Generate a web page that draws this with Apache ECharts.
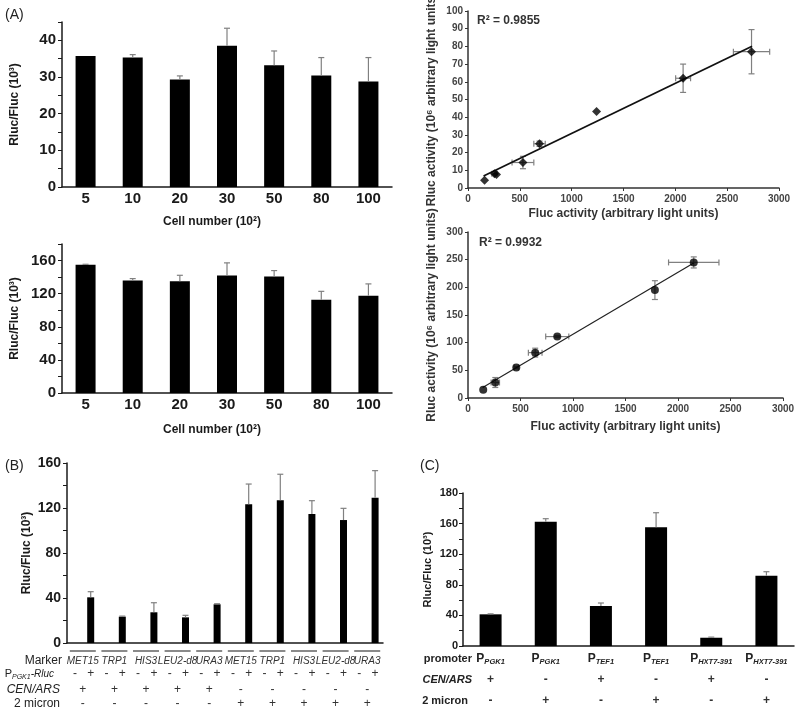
<!DOCTYPE html>
<html><head><meta charset="utf-8">
<script src="https://cdn.jsdelivr.net/npm/echarts@6/dist/echarts.min.js"></script>
<style>html,body{margin:0;padding:0;background:#fff}#c{width:800px;height:714px}</style>
</head><body><div id="c"></div>
<script>
// ---------- data ----------
const cellNumbers = ['5', '10', '20', '30', '50', '80', '100'];
const a1Mean = [35.7, 35.3, 29.3, 38.5, 33.2, 30.4, 28.8];
const a1Err  = [0.0, 0.8, 1.0, 4.8, 3.9, 4.9, 6.5];
const a2Mean = [154.8, 135.8, 135.0, 141.8, 140.6, 112.7, 117.6];
const a2Err  = [0.7, 2.4, 7.2, 15.4, 7.3, 10.1, 14.2];

const a3X    = [160, 255, 275, 530, 690, 1240, 2075, 2735];
const a3Y    = [4.4, 8.0, 7.6, 14.4, 25.0, 43.2, 62.0, 77.0];
const a3XErr = [0, 25, 0, 105, 55, 0, 72, 175];
const a3YErr = [0, 0, 0, 3.5, 1.5, 0, 8, 12.5];
const a3TrendX = [150, 2740];
const a3TrendY = [6.8, 80.1];

const a4X    = [145, 260, 460, 640, 850, 1780, 2150];
const a4Y    = [15, 28, 55, 82, 111, 195, 245];
const a4XErr = [0, 40, 20, 65, 110, 0, 240];
const a4YErr = [0, 9, 2, 8, 2, 17, 10];
const a4TrendX = [140, 2150];
const a4TrendY = [19, 244];

const markers = ['MET15', 'TRP1', 'HIS3', 'LEU2-d8', 'URA3', 'MET15', 'TRP1', 'HIS3', 'LEU2-d8', 'URA3'];
const bMean = [40.6, 23.4, 27.3, 22.8, 34.4, 123.3, 127.0, 114.7, 109.3, 129.2];
const bErr  = [5.0, 0.5, 8.5, 1.8, 0.5, 18.0, 23.0, 11.8, 10.4, 24.0];
const bPgkRluc = ['-', '+'];
const bCenArs = ['+', '+', '+', '+', '+', '-', '-', '-', '-', '-'];
const bTwoMicron = ['-', '-', '-', '-', '-', '+', '+', '+', '+', '+'];

const promoters = ['PGK1', 'PGK1', 'TEF1', 'TEF1', 'HXT7-391', 'HXT7-391'];
const cMean = [41.4, 162.5, 52.3, 155.2, 10.8, 91.9];
const cErr  = [0.6, 3.9, 3.9, 19.0, 0.8, 5.2];
const cCenArs = ['+', '-', '+', '-', '+', '-'];
const cTwoMicron = ['-', '+', '-', '+', '-', '+'];
const cYTickValues = [0, 40, 80, 120, 160, 200];
const cYTickLabels = ['0', '40', '80', '120', '160', '180'];

// ---------- helpers ----------
const FONT = 'Liberation Sans';
const INK = '#1a1a1a';
const ERR = '#808080';

function barErr(params, api) {
  const x = api.value(0), m = api.value(1), e = api.value(2);
  if (!e) return null;
  const p0 = api.coord([x, m]), p1 = api.coord([x, m + e]);
  const cap = 3;
  return { type: 'group', children: [
    { type: 'line', shape: { x1: p0[0], y1: p0[1], x2: p1[0], y2: p1[1] }, style: { stroke: ERR, lineWidth: 1.2 } },
    { type: 'line', shape: { x1: p1[0] - cap, y1: p1[1], x2: p1[0] + cap, y2: p1[1] }, style: { stroke: ERR, lineWidth: 1.2 } }
  ]};
}
function xyErr(params, api) {
  const x = api.value(0), y = api.value(1), ex = api.value(2), ey = api.value(3);
  const cap = 3, ch = [];
  const st = { stroke: ERR, lineWidth: 1.2 };
  if (ex) {
    const a = api.coord([x - ex, y]), b = api.coord([x + ex, y]);
    ch.push({ type: 'line', shape: { x1: a[0], y1: a[1], x2: b[0], y2: b[1] }, style: st });
    ch.push({ type: 'line', shape: { x1: a[0], y1: a[1] - cap, x2: a[0], y2: a[1] + cap }, style: st });
    ch.push({ type: 'line', shape: { x1: b[0], y1: b[1] - cap, x2: b[0], y2: b[1] + cap }, style: st });
  }
  if (ey) {
    const a = api.coord([x, y - ey]), b = api.coord([x, y + ey]);
    ch.push({ type: 'line', shape: { x1: a[0], y1: a[1], x2: b[0], y2: b[1] }, style: st });
    ch.push({ type: 'line', shape: { x1: a[0] - cap, y1: a[1], x2: a[0] + cap, y2: a[1] }, style: st });
    ch.push({ type: 'line', shape: { x1: b[0] - cap, y1: b[1], x2: b[0] + cap, y2: b[1] }, style: st });
  }
  return { type: 'group', children: ch };
}
function catX(gi, data, fontSize) {
  return { type: 'category', gridIndex: gi, data: data,
    axisLine: { lineStyle: { color: INK, width: 1.5 } }, axisTick: { show: false },
    axisLabel: { show: !!fontSize, interval: 0, fontFamily: FONT, fontWeight: 'bold', fontSize: fontSize || 12, color: INK, margin: 4 } };
}
function barY(gi, max, step, labelEvery, fontSize, name, nameGap, nameSize) {
  return { type: 'value', gridIndex: gi, min: 0, max: max, interval: step,
    splitLine: { show: false },
    axisLine: { show: true, lineStyle: { color: INK, width: 1.5 } },
    axisTick: { show: true, length: 4, lineStyle: { color: INK, width: 1 } },
    axisLabel: { fontFamily: FONT, fontWeight: 'bold', fontSize: fontSize, color: INK, margin: 6,
      formatter: v => (v % labelEvery === 0 ? String(v) : '') },
    name: name, nameLocation: 'middle', nameGap: nameGap,
    nameTextStyle: { fontFamily: FONT, fontWeight: 'bold', fontSize: nameSize, color: INK } };
}
function valAxis(gi, max, step, name, nameGap, isY) {
  return { type: 'value', gridIndex: gi, min: 0, max: max, interval: step,
    splitLine: { show: false },
    axisLine: { show: true, onZero: false, lineStyle: { color: '#333', width: 1.5 } },
    axisTick: { show: true, length: 3, lineStyle: { color: '#333' } },
    axisLabel: { fontFamily: FONT, fontWeight: 'bold', fontSize: 10, color: '#444', margin: isY ? 5 : 6,
      formatter: v => String(v) },
    name: name, nameLocation: 'middle', nameGap: nameGap,
    nameTextStyle: { fontFamily: FONT, fontWeight: 'bold', fontSize: 12, color: '#333' } };
}
function rowAxis(gi, data, offset, label, name, nameGap, nameStyle) {
  return { type: 'category', gridIndex: gi, data: data, position: 'bottom', offset: offset,
    axisLine: { show: false }, axisTick: { show: false },
    axisLabel: Object.assign({ interval: 0, margin: 0, verticalAlign: 'middle', fontFamily: FONT, color: '#333' }, label),
    name: name || '', nameLocation: 'start', nameGap: nameGap || 0,
    nameTextStyle: Object.assign({ fontFamily: FONT, color: '#222', verticalAlign: 'middle' }, nameStyle || {}) };
}

const bCols = markers.flatMap(() => bPgkRluc);
const bBarData = markers.flatMap((m, i) => ['-', bMean[i]]);
const bErrData = bMean.map((m, i) => [2 * i + 1, m, bErr[i]]);

const subRich = {
  p: { fontFamily: FONT, fontSize: 11, lineHeight: 13, color: '#222' },
  s: { fontFamily: FONT, fontSize: 7, fontStyle: 'italic', lineHeight: 7, verticalAlign: 'bottom', color: '#222' },
  i: { fontFamily: FONT, fontSize: 10, fontStyle: 'italic', lineHeight: 13, color: '#222' }
};
const subRichBold = {
  p: { fontFamily: FONT, fontSize: 12, fontWeight: 'bold', lineHeight: 14, color: '#222' },
  s: { fontFamily: FONT, fontSize: 7.5, fontWeight: 'bold', fontStyle: 'italic', lineHeight: 8, verticalAlign: 'bottom', color: '#222' }
};

const option = {
  animation: false,
  backgroundColor: '#fff',
  textStyle: { fontFamily: FONT },
  grid: [
    { left: 62, top: 22, width: 330, height: 165, outerBoundsMode: 'none' },
    { left: 62, top: 244, width: 330, height: 149, outerBoundsMode: 'none' },
    { left: 468, top: 11, width: 311, height: 177, outerBoundsMode: 'none' },
    { left: 468, top: 232, width: 315, height: 166, outerBoundsMode: 'none' },
    { left: 67, top: 463, width: 316, height: 180, outerBoundsMode: 'none' },
    { left: 463, top: 493, width: 331, height: 153, outerBoundsMode: 'none' }
  ],
  xAxis: [
    Object.assign(catX(0, cellNumbers, 15), { name: 'Cell number (10²)', nameLocation: 'middle', nameGap: 29,
      nameTextStyle: { fontFamily: FONT, fontWeight: 'bold', fontSize: 12, color: INK, padding: [0, 30, 0, 0] } }),
    Object.assign(catX(1, cellNumbers, 15), { name: 'Cell number (10²)', nameLocation: 'middle', nameGap: 31,
      nameTextStyle: { fontFamily: FONT, fontWeight: 'bold', fontSize: 12, color: INK, padding: [0, 30, 0, 0] } }),
    valAxis(2, 3000, 500, 'Fluc activity (arbitrary light units)', 20, false),
    valAxis(3, 3000, 500, 'Fluc activity (arbitrary light units)', 23, false),
    catX(4, bCols, 0),
    rowAxis(4, markers, 8, { formatter: () => '{l| }', rich: { l: { width: 26, height: 2, lineHeight: 2, fontSize: 2, backgroundColor: '#8a8a8a' } } }),
    rowAxis(4, markers, 18, { fontSize: 10, fontStyle: 'italic' }, 'Marker', 5, { fontSize: 12 }),
    rowAxis(4, bCols, 31, { fontSize: 12 }, '{p|P}{s|PGK1}{i|-Rluc}', 13, { rich: subRich }),
    rowAxis(4, bCenArs, 47, { fontSize: 12 }, 'CEN/ARS', 7, { fontSize: 12, fontStyle: 'italic' }),
    rowAxis(4, bTwoMicron, 61, { fontSize: 12 }, '2 micron', 7, { fontSize: 12 }),
    catX(5, promoters, 0),
    rowAxis(5, promoters, 13, { formatter: v => '{p|P}{s|' + v + '}', rich: subRichBold }, 'promoter', -9, { fontSize: 11, fontWeight: 'bold' }),
    rowAxis(5, cCenArs, 34, { fontSize: 12, fontWeight: 'bold' }, 'CEN/ARS', -9, { fontSize: 11, fontWeight: 'bold', fontStyle: 'italic' }),
    rowAxis(5, cTwoMicron, 55, { fontSize: 12, fontWeight: 'bold' }, '2 micron', -5, { fontSize: 11, fontWeight: 'bold' })
  ],
  yAxis: [
    barY(0, 45, 5, 10, 15, 'Rluc/Fluc (10³)', 41, 12),
    barY(1, 180, 20, 40, 15, 'Rluc/Fluc (10³)', 41, 12),
    valAxis(2, 100, 10, 'Rluc activity (10⁶ arbitrary light units)', 30, true),
    valAxis(3, 300, 50, 'Rluc activity (10⁶ arbitrary light units)', 30, true),
    barY(4, 160, 20, 40, 14, 'Rluc/Fluc (10³)', 34, 12),
    Object.assign(barY(5, 200, 20, 40, 11, 'Rluc/Fluc (10³)', 30, 11), {
      axisLabel: { fontFamily: FONT, fontWeight: 'bold', fontSize: 11, color: INK, margin: 5,
        formatter: v => { const k = cYTickValues.indexOf(v); return k >= 0 ? cYTickLabels[k] : ''; } } })
  ],
  series: [
    { type: 'bar', xAxisIndex: 0, yAxisIndex: 0, data: a1Mean, barWidth: 20, itemStyle: { color: '#000' } },
    { type: 'custom', xAxisIndex: 0, yAxisIndex: 0, renderItem: barErr, data: a1Mean.map((m, i) => [i, m, a1Err[i]]), encode: { x: 0, y: 1 }, z: 3 },
    { type: 'bar', xAxisIndex: 1, yAxisIndex: 1, data: a2Mean, barWidth: 20, itemStyle: { color: '#000' } },
    { type: 'custom', xAxisIndex: 1, yAxisIndex: 1, renderItem: barErr, data: a2Mean.map((m, i) => [i, m, a2Err[i]]), encode: { x: 0, y: 1 }, z: 3 },

    { type: 'custom', xAxisIndex: 2, yAxisIndex: 2, renderItem: xyErr, data: a3X.map((x, i) => [x, a3Y[i], a3XErr[i], a3YErr[i]]), encode: { x: 0, y: 1 }, z: 2 },
    { type: 'line', xAxisIndex: 2, yAxisIndex: 2, data: a3TrendX.map((x, i) => [x, a3TrendY[i]]), showSymbol: false, lineStyle: { color: '#111', width: 1.8 }, z: 3 },
    { type: 'scatter', xAxisIndex: 2, yAxisIndex: 2, data: a3X.map((x, i) => [x, a3Y[i]]), symbol: 'diamond', symbolSize: 9, itemStyle: { color: '#000' }, z: 4 },

    { type: 'custom', xAxisIndex: 3, yAxisIndex: 3, renderItem: xyErr, data: a4X.map((x, i) => [x, a4Y[i], a4XErr[i], a4YErr[i]]), encode: { x: 0, y: 1 }, z: 2 },
    { type: 'line', xAxisIndex: 3, yAxisIndex: 3, data: a4TrendX.map((x, i) => [x, a4TrendY[i]]), showSymbol: false, lineStyle: { color: '#222', width: 1.2 }, z: 3 },
    { type: 'scatter', xAxisIndex: 3, yAxisIndex: 3, data: a4X.map((x, i) => [x, a4Y[i]]), symbol: 'circle', symbolSize: 8, itemStyle: { color: '#000' }, z: 4 },

    { type: 'bar', xAxisIndex: 4, yAxisIndex: 4, data: bBarData, barWidth: 7, itemStyle: { color: '#000' } },
    { type: 'custom', xAxisIndex: 4, yAxisIndex: 4, renderItem: barErr, data: bErrData, encode: { x: 0, y: 1 }, z: 3 },

    { type: 'bar', xAxisIndex: 10, yAxisIndex: 5, data: cMean, barWidth: 22, itemStyle: { color: '#000' } },
    { type: 'custom', xAxisIndex: 10, yAxisIndex: 5, renderItem: barErr, data: cMean.map((m, i) => [i, m, cErr[i]]), encode: { x: 0, y: 1 }, z: 3 }
  ],
  graphic: [
    { type: 'text', left: 5, top: 8, style: { text: '(A)', fontFamily: FONT, fontSize: 14, fill: '#222' } },
    { type: 'text', left: 5, top: 459, style: { text: '(B)', fontFamily: FONT, fontSize: 14, fill: '#222' } },
    { type: 'text', left: 420, top: 459, style: { text: '(C)', fontFamily: FONT, fontSize: 14, fill: '#222' } },
    { type: 'text', left: 477, top: 15, style: { text: 'R² = 0.9855', fontFamily: FONT, fontWeight: 'bold', fontSize: 12, fill: '#333' } },
    { type: 'text', left: 479, top: 237, style: { text: 'R² = 0.9932', fontFamily: FONT, fontWeight: 'bold', fontSize: 12, fill: '#333' } }
  ]
};

const chart = echarts.init(document.getElementById('c'));
chart.setOption(option);
</script>
</body></html>
